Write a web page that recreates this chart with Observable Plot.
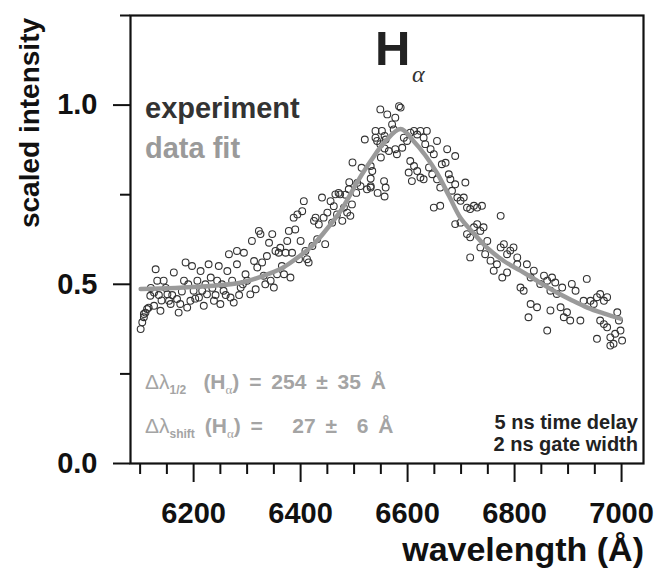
<!DOCTYPE html>
<html><head><meta charset="utf-8">
<script src="https://cdn.jsdelivr.net/npm/d3@7"></script>
<script src="https://cdn.jsdelivr.net/npm/@observablehq/plot@0.6"></script>
<style>body{margin:0;background:#fff;} #chart svg{display:block;}</style>
</head><body><div id="chart"></div>
<script>
// experiment: wavelength (Å) and scaled intensity
const expWavelength = [
6101,6104,6107,6110,6113,6107,6116,6126,6138,6119,6126,6132,6129,6144,6151,6154,6157,6163,6169,6172,6175,6182,6185,6188,6194,6197,6200,6207,6210,6213,6216,6219,6225,6228,6232,6238,6244,6247,6250,6256,6263,6266,6269,6272,6275,6281,6281,6288,6294,6297,6300,6306,6309,6313,6316,6319,6322,6325,6328,6331,6334,6337,6341,6344,6347,6350,6353,6356,6359,6362,6365,6369,6372,6375,6378,6381,6384,6387,6390,6394,6397,6400,6403,6406,6409,6412,6415,6422,6425,6428,6431,6434,6440,6443,6446,6450,6456,6459,6462,6465,6468,6474,6478,6481,6487,6490,6493,6496,6506,6512,6524,6531,
6120,6135,6140,6148,6160,6178,6190,6203,6222,6235,6241,6253,6260,6285,6292,
6520,6540,6557,6497,6514,6531,6550,6557,6471,6484,6504,6544,6557,6491,6531,6534,6531,6556,6559,
6549,6562,6584,6587,6577,6540,6552,6571,6574,6543,6549,6559,6565,6577,6580,6590,6593,6599,6605,6612,6618,6624,6630,6636,6633,6643,6649,6655,6674,6689,6605,6612,6602,6608,6618,6624,6630,6640,6646,6655,6661,6664,6671,6677,6680,6683,6689,6708,6693,6699,6705,6711,6717,6724,6730,6739,6649,6661,6689,6699,6711,6717,6724,6730,6736,6742,6749,6774,6717,6736,6745,6755,6761,6767,6774,6780,6786,6792,6798,6805,6777,6786,6805,6811,6817,6823,6830,6836,6830,6842,6826,6848,6855,6861,6870,6876,6867,6879,6889,6861,6867,6886,6892,6898,6904,6907,6914,6923,6929,6935,6942,6948,6954,6960,6967,6973,6954,6960,6967,6973,6979,6985,6992,6995,6998,7001,6979,6988
];
const expIntensity = [
0.375,0.394,0.408,0.421,0.431,0.417,0.435,0.440,0.426,0.468,0.477,0.510,0.542,0.510,0.472,0.454,0.445,0.533,0.459,0.421,0.445,0.510,0.561,0.435,0.454,0.551,0.482,0.510,0.463,0.537,0.482,0.440,0.472,0.556,0.519,0.454,0.510,0.551,0.445,0.482,0.537,0.584,0.463,0.510,0.449,0.593,0.556,0.491,0.588,0.528,0.510,0.472,0.621,0.565,0.486,0.547,0.649,0.640,0.561,0.524,0.500,0.579,0.616,0.510,0.640,0.491,0.593,0.528,0.588,0.602,0.551,0.528,0.588,0.621,0.649,0.519,0.588,0.686,0.653,0.695,0.570,0.621,0.704,0.732,0.593,0.570,0.561,0.607,0.677,0.686,0.626,0.667,0.742,0.686,0.612,0.700,0.732,0.672,0.718,0.751,0.695,0.751,0.677,0.714,0.700,0.765,0.691,0.723,0.783,0.774,0.765,0.774,
0.490,0.470,0.455,0.490,0.470,0.480,0.500,0.460,0.500,0.490,0.470,0.500,0.470,0.470,0.500,
0.904,0.909,0.914,0.840,0.825,0.830,0.854,0.879,0.755,0.750,0.755,0.755,0.745,0.785,0.795,0.816,0.770,0.788,0.770,
0.988,0.974,0.997,0.993,0.965,0.928,0.928,0.946,0.932,0.900,0.891,0.904,0.872,0.877,0.863,0.881,0.909,0.900,0.923,0.928,0.918,0.928,0.909,0.928,0.891,0.877,0.863,0.900,0.877,0.858,0.844,0.830,0.812,0.788,0.816,0.798,0.793,0.826,0.807,0.793,0.770,0.835,0.839,0.807,0.793,0.761,0.779,0.784,0.742,0.733,0.742,0.714,0.710,0.719,0.714,0.719,0.714,0.719,0.668,0.672,0.640,0.631,0.659,0.668,0.649,0.659,0.621,0.691,0.575,0.603,0.584,0.566,0.538,0.556,0.603,0.612,0.584,0.594,0.603,0.575,0.519,0.533,0.556,0.491,0.482,0.556,0.519,0.538,0.445,0.436,0.408,0.501,0.524,0.510,0.519,0.505,0.482,0.473,0.491,0.371,0.427,0.436,0.408,0.422,0.399,0.501,0.482,0.399,0.454,0.515,0.454,0.445,0.464,0.473,0.454,0.464,0.348,0.399,0.389,0.380,0.352,0.334,0.422,0.399,0.371,0.343,0.329,0.362
];
// data fit
const fitWavelength = [6101,6166,6237,6290,6331,6365,6394,6420,6443,6475,6507,6531,6559,6587,6611,6633,6656,6678,6699,6725,6750,6780,6811,6842,6873,6905,6936,6968,6998];
const fitIntensity  = [0.487,0.490,0.496,0.505,0.524,0.545,0.574,0.605,0.643,0.705,0.788,0.844,0.900,0.933,0.900,0.860,0.808,0.745,0.685,0.640,0.600,0.565,0.538,0.510,0.482,0.457,0.435,0.418,0.404];
// ticks
const xMajorTicks = [6200,6400,6600,6800,7000];
const xMinorTicks = [6100,6150,6250,6300,6350,6450,6500,6550,6650,6700,6750,6850,6900,6950];
const yMajorTicks = [0.0,0.5,1.0];
const yMinorTicks = [0.25,0.75,1.25];

const expData = expWavelength.map((w,i)=>({w, v: expIntensity[i]}));
const fitData = fitWavelength.map((w,i)=>({w, v: fitIntensity[i]}));

const FONT = "'Liberation Sans', Arial, Helvetica, sans-serif";

const plot = Plot.plot({
  width: 657, height: 573,
  marginLeft: 130, marginRight: 14, marginTop: 15, marginBottom: 110,
  x: {domain: [6082, 7041]},
  y: {domain: [0, 1.25]},
  style: {fontFamily: FONT, fontWeight: "bold", color: "#111", background: "#fff", overflow: "visible"},
  marks: [
    Plot.dot(expData, {x: "w", y: "v", r: 3.4, stroke: "#333", strokeWidth: 1.1, fill: "none"}),
    Plot.line(fitData, {x: "w", y: "v", stroke: "#9a9a9a", strokeWidth: 4.5, curve: "catmull-rom"}),
    Plot.axisX({ticks: xMinorTicks, tickSize: 11, tickFormat: () => "", strokeWidth: 2, label: null}),
    Plot.axisX({ticks: xMajorTicks, tickSize: 19, tickPadding: 20, tickFormat: d => String(d), fontSize: 29, fontWeight: "bold", strokeWidth: 2, label: null}),
    Plot.axisY({ticks: yMinorTicks, tickSize: 10, tickFormat: () => "", strokeWidth: 2, label: null}),
    Plot.axisY({ticks: yMajorTicks, tickSize: 17, tickPadding: 16, tickFormat: d => d.toFixed(1), fontSize: 29, fontWeight: "bold", strokeWidth: 2, label: null}),
    Plot.frame({stroke: "#111", strokeWidth: 2.2})
  ]
});
document.getElementById("chart").appendChild(plot);

const svg = d3.select(plot);
const g = svg.append("g").attr("font-family", FONT).attr("font-weight", "bold").attr("text-anchor", "start");

// Title H_alpha
g.append("text").attr("x", 375).attr("y", 65).attr("fill", "#222").attr("font-size", 49).text("H");
g.append("text").attr("x", 412).attr("y", 82).attr("fill", "#333").attr("font-size", 24)
  .attr("font-family", "'Liberation Serif', 'DejaVu Serif', serif").attr("font-weight", "normal").attr("font-style", "italic").text("α");

// legend texts
g.append("text").attr("x", 145).attr("y", 118).attr("fill", "#333").attr("font-size", 29).text("experiment");
g.append("text").attr("x", 145).attr("y", 158).attr("fill", "#9a9a9a").attr("font-size", 29).text("data fit");

// width annotations
function deltaLine(y, sub, rest) {
  const t = g.append("text").attr("x", 145).attr("y", y).attr("fill", "#a4a4a4").attr("font-size", 21).attr("word-spacing", 4);
  t.append("tspan").attr("font-weight", "normal").text("Δλ");
  t.append("tspan").attr("font-size", 12).attr("dy", 5).text(sub);
  t.append("tspan").attr("dy", -5).text(" (H");
  t.append("tspan").attr("font-size", 13).attr("dy", 5).attr("font-family", "'Liberation Serif', serif").attr("font-weight", "normal").text("α");
  t.append("tspan").attr("dy", -5).text(rest);
}
deltaLine(389, "1/2\u00a0", ") = 254 ± 35 Å");
deltaLine(433, "shift", ") =\u00a0\u00a0 27 ±\u00a0 6 Å");

// time delay / gate width
const NARROW = "'Liberation Sans Narrow', 'Arial Narrow', " + FONT;
g.append("text").attr("x", 638).attr("y", 429).attr("text-anchor", "end").attr("fill", "#222")
  .attr("font-size", 20).attr("font-family", NARROW).text("5 ns time delay");
g.append("text").attr("x", 638).attr("y", 451).attr("text-anchor", "end").attr("fill", "#222")
  .attr("font-size", 20).attr("font-family", NARROW).text("2 ns gate width");

// axis titles
g.append("text").attr("transform", "translate(39,123) rotate(-90)").attr("text-anchor", "middle")
  .attr("fill", "#111").attr("font-size", 28).text("scaled intensity");
g.append("text").attr("x", 644).attr("y", 561).attr("text-anchor", "end")
  .attr("fill", "#111").attr("font-size", 34).text("wavelength (Å)");
</script>
</body></html>
